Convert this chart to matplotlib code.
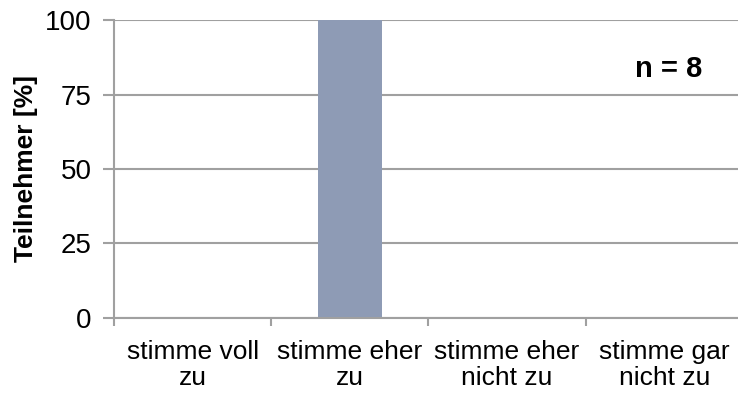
import matplotlib.pyplot as plt
import numpy as np

plt.rcParams['font.family'] = ['Liberation Sans', 'DejaVu Sans']

categories = ['stimme voll\nzu', 'stimme eher\nzu', 'stimme eher\nnicht zu', 'stimme gar\nnicht zu']
values = [0, 100, 0, 0]
y_ticks = [0, 25, 50, 75, 100]
n_label = 'n = 8'

grid_col = '#A0A0A0'
bar_col = '#8E9BB5'

fig = plt.figure(figsize=(7.38, 3.93), dpi=100)
ax = fig.add_axes([0.1545, 0.191, 0.852, 0.758])

x = np.arange(len(categories))
ax.bar(x, values, width=0.41, color=bar_col, zorder=2)

ax.set_xlim(-0.5, len(categories) - 0.5)
ax.set_ylim(0, 100)
ax.set_yticks(y_ticks)
ax.yaxis.grid(True, color=grid_col, linewidth=1.5, zorder=1)
ax.set_axisbelow(True)

# category ticks sit on the boundaries, labels in the middle
ax.set_xticks(np.arange(len(categories) + 1) - 0.5)
ax.set_xticklabels([])
ax.set_xticks(x, minor=True)
ax.set_xticklabels(categories, minor=True, fontsize=19, linespacing=1.1)
ax.tick_params(axis='x', which='minor', length=0, pad=16)
ax.tick_params(axis='x', which='major', length=6, color=grid_col, width=1.5)
ax.tick_params(axis='y', length=8, color=grid_col, width=1.5, labelsize=20, pad=8)

for side in ['top', 'right']:
    ax.spines[side].set_visible(False)
for side in ['left', 'bottom']:
    ax.spines[side].set_color(grid_col)
    ax.spines[side].set_linewidth(1.5)

ax.set_ylabel('Teilnehmer [%]', fontsize=19, fontweight='bold', labelpad=5)
ax.text(3.03, 83.5, n_label, fontsize=21, fontweight='bold', ha='center', va='center')

fig.savefig('out.png', dpi=100)
